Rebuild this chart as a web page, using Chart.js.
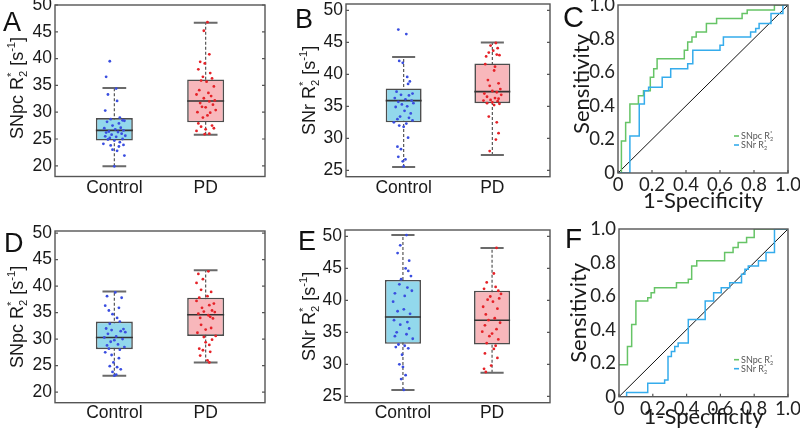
<!DOCTYPE html>
<html>
<head>
<meta charset="utf-8">
<script src="https://cdn.jsdelivr.net/npm/chart.js@4.4.1/dist/chart.umd.min.js"></script>
<style>
  html, body { margin: 0; padding: 0; background: #fff; }
  #fig { position: relative; width: 800px; height: 435px; overflow: hidden; }
  canvas { position: absolute; }
</style>
</head>
<body>
<div id="fig">
  <canvas id="pA" width="270" height="215" style="left:0;top:0;width:270px;height:215px"></canvas>
  <canvas id="pB" width="285" height="215" style="left:270px;top:0;width:285px;height:215px"></canvas>
  <canvas id="pC" width="245" height="215" style="left:555px;top:0;width:245px;height:215px"></canvas>
  <canvas id="pD" width="270" height="220" style="left:0;top:215px;width:270px;height:220px"></canvas>
  <canvas id="pE" width="285" height="220" style="left:270px;top:215px;width:285px;height:220px"></canvas>
  <canvas id="pF" width="245" height="220" style="left:555px;top:215px;width:245px;height:220px"></canvas>
</div>
<script>
// ---- data ----
const groups = ['Control', 'PD'];
const yTicksSNpc = [20, 25, 30, 35, 40, 45, 50];
const yTicksSNr = [25, 30, 35, 40, 45, 50];
const rocTicks = [0, 0.2, 0.4, 0.6, 0.8, 1.0];

// box stats: [lower whisker, q1, median, q3, upper whisker]
const aCtrlBox = [19.9, 24.7, 26.6, 28.9, 34.5];
const aPdBox = [25.8, 28.1, 32.1, 36.1, 46.7];
const bCtrlBox = [25.5, 32.5, 35.9, 37.8, 42.7];
const bPdBox = [27.4, 35.5, 37.3, 41.7, 45.0];
const dCtrlBox = [23.1, 28.1, 30.3, 33.3, 39.0];
const dPdBox = [25.6, 30.6, 34.6, 37.8, 43.0];
const eCtrlBox = [26.0, 33.2, 37.4, 43.2, 50.2];
const ePdBox = [28.7, 33.1, 36.9, 41.5, 48.2];

// individual subjects (values) and their horizontal jitter (category units)
const aCtrlY = [39.5, 36.6, 34.4, 33.3, 32.1, 30.3, 29.0, 28.7, 28.5, 28.4, 28.2, 27.9, 27.5, 27.1, 27.0, 26.8, 26.6, 26.4, 26.3, 26.2, 26.0, 25.8, 25.6, 25.5, 25.4, 25.2, 25.0, 24.9, 24.7, 24.4, 24.1, 23.9, 23.8, 23.6, 23.0, 22.8, 21.9, 19.9];
const aCtrlX = [-0.05, -0.09, 0.02, -0.07, 0.03, -0.1, 0.06, -0.04, 0.09, 0.11, -0.08, 0.05, -0.02, 0.07, -0.11, 0.01, 0.1, -0.06, 0.04, -0.09, 0.08, -0.03, 0.12, -0.1, 0.02, -0.05, 0.09, -0.07, 0.0, 0.06, -0.12, 0.1, -0.04, 0.05, -0.02, 0.03, 0.11, 0.0];
const aPdY = [46.8, 45.2, 40.8, 39.4, 39.1, 38.0, 37.3, 36.6, 36.3, 35.9, 35.7, 34.8, 34.1, 33.6, 33.3, 33.0, 32.6, 32.2, 32.0, 31.7, 31.4, 31.0, 30.9, 30.4, 30.0, 29.9, 29.4, 29.0, 27.9, 27.5, 27.3, 27.0, 26.8, 26.5, 26.0, 25.9];
const aPdX = [0.02, -0.02, 0.04, -0.06, -0.01, -0.08, 0.05, -0.03, 0.07, -0.05, 0.01, 0.09, -0.07, 0.03, -0.1, 0.06, -0.02, 0.1, 0.04, -0.06, 0.08, -0.04, 0.0, 0.11, -0.09, 0.05, 0.02, -0.03, -0.08, 0.07, -0.05, 0.09, 0.0, -0.1, 0.04, -0.01];

const bCtrlY = [47.0, 46.3, 42.1, 41.8, 39.6, 38.9, 38.5, 37.3, 37.0, 36.8, 36.7, 36.3, 36.1, 35.9, 35.7, 35.5, 35.3, 35.0, 34.9, 34.3, 33.9, 33.4, 33.2, 33.0, 32.8, 32.5, 32.3, 32.0, 31.8, 30.1, 28.7, 28.3, 27.1, 26.7, 26.4, 25.6];
const bCtrlX = [-0.06, 0.03, -0.05, -0.01, 0.04, 0.07, 0.05, -0.08, 0.1, -0.03, 0.06, -0.1, 0.02, 0.09, -0.06, 0.11, -0.02, 0.04, -0.09, 0.01, 0.08, -0.04, 0.06, -0.07, 0.1, -0.11, 0.03, -0.05, 0.0, 0.05, -0.07, -0.03, -0.06, 0.02, -0.01, 0.0];
const bPdY = [44.9, 44.5, 44.1, 43.7, 43.4, 43.1, 43.0, 42.8, 41.6, 41.2, 40.6, 39.1, 38.6, 38.2, 37.7, 37.4, 37.2, 37.0, 36.8, 36.5, 36.3, 36.2, 36.0, 35.9, 35.8, 35.6, 35.5, 35.4, 35.2, 33.4, 32.5, 30.8, 29.8, 28.0];
const bPdX = [0.04, -0.02, 0.06, 0.01, -0.04, 0.05, 0.08, -0.07, -0.08, 0.03, 0.02, -0.05, 0.07, -0.03, 0.09, 0.0, 0.05, -0.09, 0.1, -0.06, 0.03, 0.07, -0.02, -0.1, 0.06, 0.0, -0.06, 0.08, 0.02, -0.04, 0.05, 0.07, 0.04, -0.03];

const dCtrlY = [38.8, 38.1, 37.8, 36.3, 35.9, 35.4, 34.7, 34.0, 33.3, 32.9, 32.0, 31.9, 31.7, 31.5, 31.3, 31.0, 30.5, 30.3, 30.0, 29.8, 29.5, 29.0, 28.8, 28.5, 28.2, 28.0, 27.5, 27.0, 26.4, 25.6, 24.9, 24.7, 24.3, 23.8, 23.3, 23.1];
const dCtrlX = [0.01, -0.08, 0.08, -0.1, 0.05, -0.06, -0.02, 0.03, 0.06, -0.05, -0.09, 0.1, -0.03, 0.07, 0.12, -0.07, 0.02, -0.11, 0.09, 0.0, -0.04, 0.04, -0.08, 0.11, -0.06, 0.06, -0.1, -0.03, 0.05, -0.01, -0.05, 0.03, 0.07, -0.02, 0.02, 0.0];
const dPdY = [42.8, 42.3, 41.3, 40.6, 39.3, 38.9, 38.1, 37.8, 37.2, 36.7, 36.4, 35.9, 35.4, 35.2, 35.1, 34.8, 34.5, 34.2, 34.0, 33.9, 32.7, 32.1, 31.8, 31.2, 30.6, 30.4, 29.9, 29.4, 28.9, 28.2, 27.9, 27.6, 26.9, 26.0, 25.6];
const dPdX = [0.03, -0.08, -0.03, -0.1, -0.05, 0.06, 0.02, -0.07, -0.1, 0.09, 0.04, -0.04, 0.07, -0.02, 0.1, -0.08, 0.03, 0.05, -0.06, 0.08, -0.05, 0.06, 0.0, -0.09, 0.11, -0.02, 0.07, 0.0, 0.04, -0.07, -0.03, 0.05, -0.06, 0.02, 0.04];

const eCtrlY = [50.2, 48.6, 47.4, 46.2, 45.0, 44.6, 43.8, 43.3, 42.5, 42.0, 41.5, 41.1, 40.7, 39.8, 38.6, 38.3, 37.9, 36.9, 36.6, 36.2, 35.6, 35.0, 34.7, 34.4, 34.0, 33.1, 32.9, 32.7, 32.5, 31.5, 30.0, 29.6, 28.3, 27.7, 26.0];
const eCtrlX = [0.04, -0.03, -0.06, 0.07, 0.03, 0.06, 0.09, -0.02, -0.04, 0.05, 0.1, -0.09, 0.02, -0.11, 0.01, -0.06, 0.08, -0.1, 0.05, -0.03, 0.07, -0.07, 0.04, -0.09, 0.11, -0.05, 0.02, -0.08, 0.06, -0.01, -0.04, 0.0, 0.03, -0.02, 0.01];
const ePdY = [48.2, 44.2, 42.8, 42.1, 41.8, 41.5, 41.0, 40.6, 40.3, 40.1, 39.8, 39.0, 38.7, 37.8, 37.2, 36.9, 36.5, 36.1, 35.5, 35.1, 34.8, 34.4, 33.9, 33.3, 32.9, 32.4, 31.7, 31.0, 29.8, 29.3, 28.8];
const ePdX = [0.05, 0.02, -0.06, 0.04, -0.09, 0.07, 0.1, -0.02, 0.08, -0.05, 0.01, -0.1, 0.06, -0.07, 0.03, -0.04, 0.09, -0.08, 0.05, -0.11, 0.0, -0.03, 0.07, -0.06, 0.04, 0.02, -0.08, 0.06, -0.01, -0.09, -0.07];

// ROC curves (1-specificity, sensitivity), corners after each step
const cGreenX = [0, 0.02, 0.045, 0.07, 0.12, 0.15, 0.19, 0.21, 0.23, 0.39, 0.41, 0.435, 0.46, 0.52, 0.58, 0.73, 0.76, 0.92, 1.0];
const cGreenY = [0, 0.19, 0.30, 0.41, 0.46, 0.49, 0.57, 0.62, 0.68, 0.73, 0.78, 0.81, 0.84, 0.89, 0.92, 0.95, 0.97, 1.0, 1.0];
const cBlueX = [0, 0.07, 0.125, 0.155, 0.18, 0.26, 0.31, 0.41, 0.44, 0.6, 0.62, 0.78, 0.81, 0.83, 0.9, 0.97, 1.0];
const cBlueY = [0, 0.22, 0.41, 0.49, 0.51, 0.57, 0.62, 0.65, 0.73, 0.76, 0.81, 0.84, 0.86, 0.89, 0.95, 1.0, 1.0];
const fGreenX = [0, 0.05, 0.075, 0.1, 0.17, 0.19, 0.21, 0.34, 0.41, 0.43, 0.46, 0.625, 0.675, 0.705, 0.755, 0.8, 1.0];
const fGreenY = [0.19, 0.30, 0.43, 0.57, 0.59, 0.62, 0.65, 0.68, 0.70, 0.78, 0.81, 0.86, 0.89, 0.92, 0.95, 1.0, 1.0];
const fBlueX = [0, 0.045, 0.17, 0.27, 0.29, 0.31, 0.33, 0.35, 0.41, 0.51, 0.56, 0.605, 0.655, 0.725, 0.745, 0.765, 0.825, 0.87, 0.92, 1.0];
const fBlueY = [0, 0.025, 0.08, 0.10, 0.24, 0.27, 0.30, 0.32, 0.46, 0.57, 0.62, 0.65, 0.68, 0.73, 0.76, 0.78, 0.81, 0.86, 1.0, 1.0];
const diagX = [0, 1];
const diagY = [0, 1];

// axis titles / legend labels (rich text pieces)
const titleSNpc = [{ t: 'SNpc R' }, { sup: '*', sub: '2' }, { t: ' [s' }, { sup: '-1' }, { t: ']' }];
const titleSNr = [{ t: 'SNr R' }, { sup: '*', sub: '2' }, { t: ' [s' }, { sup: '-1' }, { t: ']' }];
const legSNpc = [{ t: 'SNpc R' }, { sup: '*', sub: '2' }];
const legSNr = [{ t: 'SNr R' }, { sup: '*', sub: '2' }];

// ---- helpers ----
const ARIAL = '"Liberation Sans", Arial, sans-serif';
const CALI = 'Lato, "Open Sans", sans-serif';
const CYAN = '#92d8ec', PINK = '#f8b7bb', BLUE = '#3a4ee0', RED = '#e52228';
const GREEN = '#66c466', SKY = '#35acec';

const zip = (xs, ys) => xs.map((x, i) => ({ x: x, y: ys[i] }));
const pts = (c, ys, dxs) => ys.map((v, i) => ({ x: c + (dxs[i] || 0), y: v }));

function rich(ctx, parts, x, y, size, family, draw) {
  let cx = x;
  parts.forEach(p => {
    if (p.t) {
      ctx.font = size + 'px ' + family;
      if (draw) ctx.fillText(p.t, cx, y);
      cx += ctx.measureText(p.t).width;
    } else {
      const s = size * 0.62;
      ctx.font = s + 'px ' + family;
      let w = 0;
      if (p.sup) { if (draw) ctx.fillText(p.sup, cx, y - size * 0.42); w = Math.max(w, ctx.measureText(p.sup).width); }
      if (p.sub) { if (draw) ctx.fillText(p.sub, cx, y + size * 0.24); w = Math.max(w, ctx.measureText(p.sub).width); }
      cx += w;
    }
  });
  return cx - x;
}

function panelPlugin(p) {
  return {
    id: 'panel' + p.letter,
    afterDatasetsDraw(chart) {
      const { ctx, chartArea: a } = chart;
      ctx.save();
      ctx.strokeStyle = '#555';
      ctx.lineWidth = 1.4;
      ctx.strokeRect(a.left, a.top, a.right - a.left, a.bottom - a.top);
      ctx.lineWidth = 1.2;
      ctx.beginPath();
      if (p.roc) {
        chart.scales.x.ticks.forEach(t => {
          const px = chart.scales.x.getPixelForValue(t.value);
          ctx.moveTo(px, a.bottom); ctx.lineTo(px, a.bottom - 3);
        });
      } else {
        chart.scales.y.ticks.forEach(t => {
          const py = chart.scales.y.getPixelForValue(t.value);
          ctx.moveTo(a.left, py); ctx.lineTo(a.left + 3, py);
          ctx.moveTo(a.right, py); ctx.lineTo(a.right - 3, py);
        });
      }
      ctx.stroke();
      ctx.restore();
    },
    afterDraw(chart) {
      const { ctx, chartArea: a } = chart;
      ctx.save();
      ctx.fillStyle = '#111';
      ctx.textBaseline = 'alphabetic';
      ctx.textAlign = 'left';
      // panel letter
      ctx.font = p.letterSize + 'px ' + ARIAL;
      ctx.fillText(p.letter, p.lx, p.ly);
      // y title (rotated)
      const fam = p.roc ? CALI : ARIAL;
      const cy = p.titleCY !== undefined ? p.titleCY : (a.top + a.bottom) / 2;
      ctx.fillStyle = '#1a1a1a';
      ctx.translate(p.titleX, cy);
      ctx.rotate(-Math.PI / 2);
      const tw = rich(ctx, p.title, 0, 0, p.titleSize, fam, false);
      rich(ctx, p.title, -tw / 2, 0, p.titleSize, fam, true);
      ctx.setTransform(1, 0, 0, 1, 0, 0);
      if (p.roc) {
        // x title
        ctx.font = p.titleSize + 'px ' + CALI;
        ctx.textAlign = 'center';
        ctx.fillText(p.xTitle, (a.left + a.right) / 2, p.xTitleY);
        ctx.textAlign = 'left';
        // legend
        const rows = [[GREEN, legSNpc], [SKY, legSNr]];
        rows.forEach((r, i) => {
          const ry = a.bottom - 37 + i * 9;
          ctx.strokeStyle = r[0];
          ctx.lineWidth = 1.6;
          ctx.beginPath();
          ctx.moveTo(a.right - 54, ry); ctx.lineTo(a.right - 49, ry);
          ctx.stroke();
          ctx.fillStyle = '#555';
          rich(ctx, r[1], a.right - 47, ry + 3, 9, CALI, true);
        });
      }
      ctx.restore();
    }
  };
}

function boxChart(id, p) {
  const boxW = 0.405, capW = 0.26;
  const stats = [p.ctrlBox, p.pdBox];
  const whisk = [], caps = [], meds = [];
  stats.forEach((s, i) => {
    const c = i + 1;
    whisk.push({ x: c, y: s[0] }, { x: c, y: s[4] }, { x: c, y: null });
    caps.push({ x: c - capW / 2, y: s[0] }, { x: c + capW / 2, y: s[0] }, { x: c, y: null },
              { x: c - capW / 2, y: s[4] }, { x: c + capW / 2, y: s[4] }, { x: c, y: null });
    meds.push({ x: c - boxW / 2, y: s[2] }, { x: c + boxW / 2, y: s[2] }, { x: c, y: null });
  });

  return new Chart(document.getElementById(id), {
    type: 'bar',
    data: {
      datasets: [
        { type: 'scatter', data: pts(1, p.ctrlY, p.ctrlX), backgroundColor: BLUE, borderWidth: 0, pointRadius: 1.4, order: 0 },
        { type: 'scatter', data: pts(2, p.pdY, p.pdX), backgroundColor: RED, borderWidth: 0, pointRadius: 1.4, order: 0 },
        { type: 'line', data: meds, borderColor: '#333', borderWidth: 1.6, pointRadius: 0, spanGaps: false, order: 1 },
        { type: 'bar', data: stats.map((s, i) => ({ x: i + 1, y: [s[1], s[3]] })),
          backgroundColor: [CYAN, PINK], borderColor: '#4d4d4d', borderWidth: 1.6, borderSkipped: false,
          barPercentage: boxW, categoryPercentage: 1, order: 2 },
        { type: 'line', data: caps, borderColor: '#6a6a6a', borderWidth: 2, pointRadius: 0, spanGaps: false, order: 3 },
        { type: 'line', data: whisk, borderColor: '#555', borderWidth: 1.2, borderDash: [3, 2], pointRadius: 0, spanGaps: false, order: 4 }
      ]
    },
    options: {
      responsive: false,
      animation: false,
      events: [],
      layout: { padding: { left: 0, top: p.T, right: p.R, bottom: 0 } },
      plugins: { legend: { display: false }, tooltip: { enabled: false } },
      scales: {
        x: {
          type: 'linear', min: 0.35, max: 2.65, offset: false,
          grid: { display: false, drawTicks: false }, border: { display: false },
          afterBuildTicks: s => { s.ticks = groups.map((g, i) => ({ value: i + 1 })); },
          afterFit: s => { s.height = p.Bh; s.paddingLeft = 0; s.paddingRight = 0; },
          ticks: { callback: v => groups[Math.round(v) - 1], font: { family: ARIAL, size: 17.5 }, color: '#1a1a1a', padding: p.xPad, maxRotation: 0, autoSkip: false }
        },
        y: {
          type: 'linear', min: p.yMin, max: p.yMax, beginAtZero: false,
          grid: { display: false, drawTicks: false }, border: { display: false },
          afterBuildTicks: s => { s.ticks = p.yTicks.map(v => ({ value: v })); },
          afterFit: s => { s.width = p.Lw; s.paddingTop = 0; s.paddingBottom = 0; },
          ticks: { font: { family: ARIAL, size: 17.5 }, color: '#1a1a1a', padding: 3, autoSkip: false }
        }
      }
    },
    plugins: [panelPlugin(p)]
  });
}

function rocChart(id, p) {
  return new Chart(document.getElementById(id), {
    type: 'scatter',
    data: {
      datasets: [
        { data: zip(p.gX, p.gY), showLine: true, stepped: true, borderColor: GREEN, borderWidth: 1.5, pointRadius: 0, order: 1 },
        { data: zip(p.bX, p.bY), showLine: true, stepped: true, borderColor: SKY, borderWidth: 1.5, pointRadius: 0, order: 0 },
        { data: zip(diagX, diagY), showLine: true, borderColor: '#111', borderWidth: 1, pointRadius: 0, order: 2 }
      ]
    },
    options: {
      responsive: false,
      animation: false,
      events: [],
      layout: { padding: { left: 0, top: p.T, right: p.R, bottom: 0 } },
      plugins: { legend: { display: false }, tooltip: { enabled: false } },
      scales: {
        x: {
          type: 'linear', min: 0, max: 1,
          grid: { display: false, drawTicks: false }, border: { display: false },
          afterBuildTicks: s => { s.ticks = rocTicks.map(v => ({ value: v })); },
          afterFit: s => { s.height = p.Bh; s.paddingLeft = 0; s.paddingRight = 0; },
          ticks: { callback: v => v === 0 ? '0' : v.toFixed(1), font: { family: CALI, size: 18.5 }, color: '#222', padding: 1, maxRotation: 0, autoSkip: false }
        },
        y: {
          type: 'linear', min: 0, max: 1,
          grid: { display: false, drawTicks: false }, border: { display: false },
          afterBuildTicks: s => { s.ticks = rocTicks.map(v => ({ value: v })); },
          afterFit: s => { s.width = p.Lw; s.paddingTop = 0; s.paddingBottom = 0; },
          ticks: { callback: v => v === 0 ? '0' : v.toFixed(1), font: { family: CALI, size: 18.5 }, color: '#222', padding: 3, autoSkip: false }
        }
      }
    },
    plugins: [panelPlugin(p)]
  });
}

// ---- panels ----
boxChart('pA', { letter: 'A', lx: 3, ly: 31, letterSize: 27, title: titleSNpc, titleX: 22.5, titleCY: 88, titleSize: 18,
  T: 5, R: 5, Lw: 55, Bh: 38.5, xPad: 1, yMin: 18, yMax: 50, yTicks: yTicksSNpc,
  ctrlBox: aCtrlBox, pdBox: aPdBox, ctrlY: aCtrlY, ctrlX: aCtrlX, pdY: aPdY, pdX: aPdX });

boxChart('pB', { letter: 'B', lx: 25, ly: 28, letterSize: 27, title: titleSNr, titleX: 45, titleSize: 18,
  T: 3.3, R: 5, Lw: 76, Bh: 38.3, xPad: 1, yMin: 24, yMax: 51, yTicks: yTicksSNr,
  ctrlBox: bCtrlBox, pdBox: bPdBox, ctrlY: bCtrlY, ctrlX: bCtrlX, pdY: bPdY, pdX: bPdX });

rocChart('pC', { roc: true, letter: 'C', lx: 8, ly: 27, letterSize: 29, title: [{ t: 'Sensitivity' }], titleX: 33.5, titleCY: 84, titleSize: 22,
  xTitle: '1-Specificity', xTitleY: 208, T: 5, R: 12, Lw: 63, Bh: 42,
  gX: cGreenX, gY: cGreenY, bX: cBlueX, bY: cBlueY });

boxChart('pD', { letter: 'D', lx: 4, ly: 37, letterSize: 27, title: titleSNpc, titleX: 22.5, titleSize: 18,
  T: 16, R: 5, Lw: 55, Bh: 32.3, xPad: 0, yMin: 18, yMax: 50.4, yTicks: yTicksSNpc,
  ctrlBox: dCtrlBox, pdBox: dPdBox, ctrlY: dCtrlY, ctrlX: dCtrlX, pdY: dPdY, pdX: dPdX });

boxChart('pE', { letter: 'E', lx: 28, ly: 35, letterSize: 27, title: titleSNr, titleX: 45, titleSize: 18,
  T: 15, R: 5, Lw: 75, Bh: 32.3, xPad: 0, yMin: 24, yMax: 51, yTicks: yTicksSNr,
  ctrlBox: eCtrlBox, pdBox: ePdBox, ctrlY: eCtrlY, ctrlX: eCtrlX, pdY: ePdY, pdX: ePdX });

rocChart('pF', { roc: true, letter: 'F', lx: 10, ly: 33, letterSize: 28, title: [{ t: 'Sensitivity' }], titleX: 30.5, titleSize: 22,
  xTitle: '1-Specificity', xTitleY: 209, T: 14, R: 12, Lw: 64, Bh: 38.3,
  gX: fGreenX, gY: fGreenY, bX: fBlueX, bY: fBlueY });
</script>
</body>
</html>
